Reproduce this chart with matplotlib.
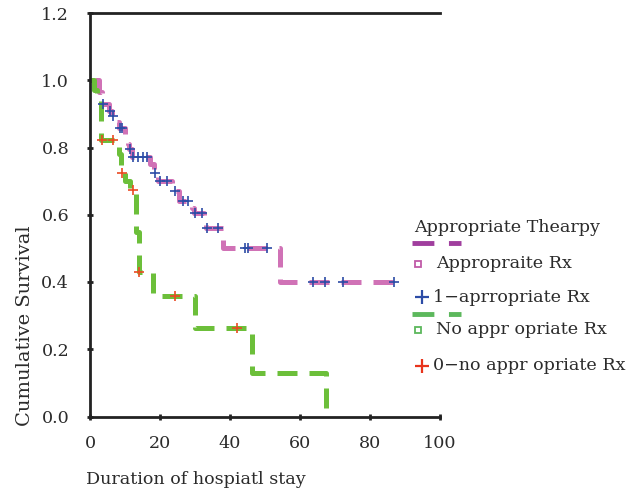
import numpy as np
import matplotlib
matplotlib.use("Agg")
import matplotlib.pyplot as plt
from matplotlib.lines import Line2D

# ---- data ----
# Appropriate therapy: Kaplan-Meier step (time, survival)
app_t = [1.5, 2.5, 3.5, 5.5, 6.3, 7.5, 8.3, 10, 10.8, 11.2, 12, 17, 18.3, 19.5,
         23.5, 25.5, 29, 29.7, 32.5, 33, 38, 54.3, 87]
app_s = [1.0, 0.965, 0.93, 0.91, 0.895, 0.875, 0.857, 0.83, 0.81, 0.795, 0.773,
         0.75, 0.724, 0.70, 0.67, 0.642, 0.62, 0.605, 0.583, 0.56, 0.50, 0.40, 0.40]
app_cens = [3.8, 5.7, 6.7, 8.6, 9.0, 11.4, 12.4, 13.8, 15.2, 16.2, 18.6, 20, 22.1,
            24.3, 26.7, 28.1, 30, 31.9, 33.3, 36.7, 44.3, 45.2, 50.5, 63.8, 67.1,
            72.4, 86.9]

# No appropriate therapy
no_t = [0, 1, 2, 3, 8.3, 8.8, 10, 11.3, 13.2, 14, 18.1, 30, 46.4, 67.3]
no_s = [1.0, 0.97, 0.94, 0.823, 0.78, 0.724, 0.70, 0.674, 0.55, 0.43, 0.357,
        0.262, 0.129, 0.0]
no_cens = [3.3, 6.5, 9.05, 12.2, 14.1, 24.3, 42.1]

legend_title = "Appropriate Thearpy"
legend_labels = ["Appropraite Rx", "1\u2212aprropriate Rx",
                 "No appr opriate Rx", "0\u2212no appr opriate Rx"]


def surv_at(t, s, x):
    idx = np.searchsorted(t, x, side="right") - 1
    return np.array(s)[idx]


plt.rcParams["font.family"] = ["DejaVu Serif"]
plt.rcParams["font.size"] = 12.6

fig = plt.figure(figsize=(6.39, 4.91), dpi=100)
ax = fig.add_axes([90 / 639, 1 - 416.5 / 491, 350 / 639, 403.5 / 491])

pink = "#d072b6"
green = "#6cbf3a"
blue = "#2c4ca6"
red = "#ea4a22"
txt = "#2b2b2b"

ax.step(app_t, app_s, where="post", color=pink, lw=3.6, dashes=(4, 2.4), zorder=2)
ax.step(no_t, no_s, where="post", color=green, lw=3.6, dashes=(4, 2.4), zorder=2)
ax.plot(app_cens, surv_at(app_t, app_s, app_cens), ls="none", marker="+",
        ms=6.5, mew=1.2, color=blue, zorder=3)
ax.plot(no_cens, surv_at(no_t, no_s, no_cens), ls="none", marker="+",
        ms=6.5, mew=1.2, color=red, zorder=3)

ax.set_xlim(0, 100)
ax.set_ylim(0, 1.2)
ax.set_xticks(np.arange(0, 101, 20))
ax.set_yticks(np.arange(0, 1.21, 0.2))
ax.set_yticklabels([f"{v:.1f}" for v in np.arange(0, 1.21, 0.2)])
ax.spines["right"].set_visible(False)
for sp in ["left", "bottom", "top"]:
    ax.spines[sp].set_linewidth(2)
    ax.spines[sp].set_color("#222222")
ax.tick_params(direction="inout", length=4, width=2, color="#222222",
               labelcolor=txt, labelsize=12.6)
ax.tick_params(axis="y", pad=13)
ax.tick_params(axis="x", pad=11)

fig.text(25 / 639, 1 - 326 / 491, "Cumulative Survival", rotation=90,
         ha="center", va="center", color=txt, fontsize=14)
fig.text(86 / 639, 1 - 480 / 491, "Duration of hospiatl stay", ha="left",
         va="center", color=txt)

# ---- legend drawn by hand at the right ----
def fx(px):
    return px / 639


def fy(py):
    return 1 - py / 491


fig.text(fx(414), fy(227), legend_title, ha="left", va="center", color=txt)
fig.add_artist(Line2D([fx(412), fx(461)], [fy(243)] * 2, color="#a03e9e",
                      lw=3.5, dashes=(4.5, 3.0)))
fig.add_artist(Line2D([fx(418)], [fy(264)], marker="s", ms=5, mfc="white",
                      mec="#c05aa8", mew=1.3, ls="none"))
fig.text(fx(436), fy(264), legend_labels[0], ha="left", va="center", color=txt)
fig.add_artist(Line2D([fx(422)], [fy(297)], marker="+", ms=10, mew=1.6,
                      color=blue, ls="none"))
fig.text(fx(433), fy(297), legend_labels[1], ha="left", va="center", color=txt)
fig.add_artist(Line2D([fx(412), fx(461)], [fy(314)] * 2, color="#5cb85c",
                      lw=3.5, dashes=(4.5, 3.0)))
fig.add_artist(Line2D([fx(418)], [fy(330)], marker="s", ms=5, mfc="white",
                      mec="#5cb85c", mew=1.3, ls="none"))
fig.text(fx(436), fy(330), legend_labels[2], ha="left", va="center", color=txt)
fig.add_artist(Line2D([fx(422)], [fy(366)], marker="+", ms=10, mew=1.6,
                      color="#e8341c", ls="none"))
fig.text(fx(433), fy(366), legend_labels[3], ha="left", va="center", color=txt)

fig.savefig("out.png", dpi=100)
